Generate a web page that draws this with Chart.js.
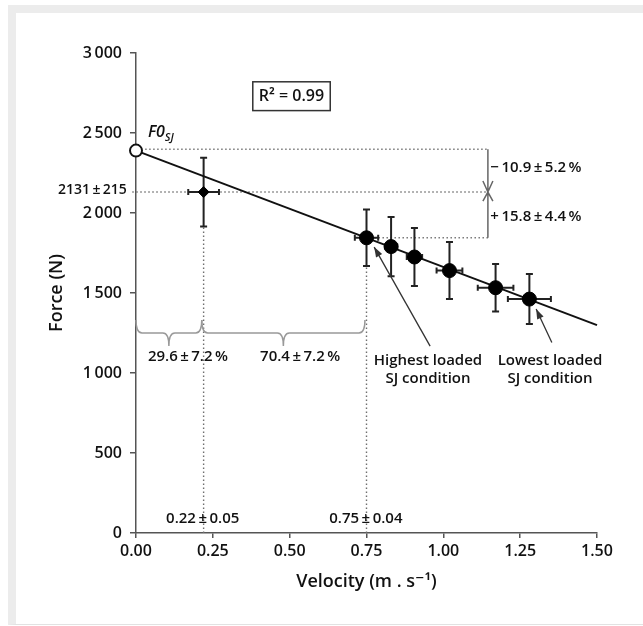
<!DOCTYPE html>
<html lang="en">
<head>
  <meta charset="UTF-8" />
  <title>Force-velocity relationship (SJ)</title>
  <script src="https://cdn.jsdelivr.net/npm/chart.js"></script>
  <style>
    html, body { margin: 0; padding: 0; background: #fff; }
    #wrap { position: relative; width: 643px; height: 626px; }
    #frame { position: absolute; left: 8px; top: 5px; right: 0; bottom: 1px;
             border-top: 8px solid #ececec; border-left: 8px solid #ececec; border-bottom: 1px solid #e2e2e2; }
    canvas { position: absolute; left: 0; top: 0; }
  </style>
</head>
<body>
  <div id="wrap">
    <div id="frame"></div>
    <canvas id="fvChart" width="643" height="626"></canvas>
  </div>

  <script>
    // loaded SJ conditions (mean, SD)
    const loadVelocity   = [0.75, 0.83, 0.906, 1.02, 1.17, 1.28];
    const loadVelocitySd = [0.038, 0.02, 0.025, 0.042, 0.058, 0.07];
    const loadForce      = [1845, 1790, 1725, 1640, 1533, 1462];
    const loadForceSd    = [177, 185, 181, 178, 149, 156];

    // unloaded SJ (diamond)
    const sjVelocity   = [0.22];
    const sjVelocitySd = [0.05];
    const sjForce      = [2131];
    const sjForceSd    = [215];

    // linear fit F = F0 + slope * v
    const fitIntercept = 2390;
    const fitSlope = -727;
    const fitRange = [0, 1.5];

    const xTicks = [0, 0.25, 0.5, 0.75, 1, 1.25, 1.5];
    const yTicks = [0, 500, 1000, 1500, 2000, 2500, 3000];

    const bracketX = 1.145;
    const ink = '#111';
    const fontFam = '"Open Sans", "DejaVu Sans", sans-serif';

    Chart.defaults.font.family = fontFam;

    function thin(n) {
      return String(n).replace(/\B(?=(\d{3})+(?!\d))/g, '\u2009');
    }

    // text labels placed in data space
    const notes = [
      { text: '29.6\u2009±\u20097.2\u2009%', x: 0.169, y: 1102, align: 'center', size: 15 },
      { text: '70.4\u2009±\u20097.2\u2009%', x: 0.534, y: 1102, align: 'center', size: 15 },
      { text: 'Highest loaded', x: 0.950, y: 1078, align: 'center', size: 15 },
      { text: 'SJ condition',   x: 0.950, y: 966,  align: 'center', size: 15 },
      { text: 'Lowest loaded',  x: 1.347, y: 1078, align: 'center', size: 15 },
      { text: 'SJ condition',   x: 1.347, y: 966,  align: 'center', size: 15 },
      { text: '\u2212\u200910.9\u2009±\u20095.2\u2009%', x: 1.153, y: 2281, align: 'left', size: 15 },
      { text: '+\u200915.8\u2009±\u20094.4\u2009%', x: 1.153, y: 1975, align: 'left', size: 15 },
      { text: '0.22\u2009±\u20090.05', x: 0.217, y: 87, align: 'center', size: 15 },
      { text: '0.75\u2009±\u20090.04', x: 0.748, y: 87, align: 'center', size: 15 },
      { text: '2131\u2009±\u2009215', x: -0.03, y: 2142, align: 'right', size: 14 }
    ];

    const arrows = [
      { from: [0.957, 1168], to: [0.775, 1787] },
      { from: [1.353, 1190], to: [1.302, 1400] }
    ];

    const braces = [
      { x1: 0, x2: 0.214, y: 1250 },
      { x1: 0.214, x2: 0.745, y: 1250 }
    ];

    function drawErrorBars(ctx, x, y, vx, vsd, fy, fsd) {
      ctx.save();
      ctx.strokeStyle = '#222';
      ctx.lineWidth = 2;
      for (let i = 0; i < vx.length; i++) {
        const cx = x.getPixelForValue(vx[i]);
        const cy = y.getPixelForValue(fy[i]);
        const top = y.getPixelForValue(fy[i] + fsd[i]);
        const bot = y.getPixelForValue(fy[i] - fsd[i]);
        const lft = x.getPixelForValue(vx[i] - vsd[i]);
        const rgt = x.getPixelForValue(vx[i] + vsd[i]);
        ctx.beginPath();
        ctx.moveTo(cx, top); ctx.lineTo(cx, bot);
        ctx.moveTo(cx - 3.5, top); ctx.lineTo(cx + 3.5, top);
        ctx.moveTo(cx - 3.5, bot); ctx.lineTo(cx + 3.5, bot);
        ctx.moveTo(lft, cy); ctx.lineTo(rgt, cy);
        ctx.moveTo(lft, cy - 3); ctx.lineTo(lft, cy + 3);
        ctx.moveTo(rgt, cy - 3); ctx.lineTo(rgt, cy + 3);
        ctx.stroke();
      }
      ctx.restore();
    }

    const annotations = {
      id: 'annotations',
      beforeDatasetsDraw(chart) {
        const { ctx, scales: { x, y } } = chart;
        const X = v => x.getPixelForValue(v);
        const Y = v => y.getPixelForValue(v);

        // dotted guide lines
        ctx.save();
        ctx.strokeStyle = '#6f6f6f';
        ctx.lineWidth = 1.4;
        ctx.setLineDash([1.4, 2.6]);
        const hLines = [
          [0.03, bracketX, fitIntercept + 8],
          [-0.012, bracketX, sjForce[0]],
          [loadVelocity[0], bracketX, loadForce[0]]
        ];
        hLines.forEach(([a, b, f]) => {
          ctx.beginPath(); ctx.moveTo(X(a), Y(f)); ctx.lineTo(X(b), Y(f)); ctx.stroke();
        });
        const vLines = [
          [sjVelocity[0], sjForce[0] - sjForceSd[0]],
          [loadVelocity[0], loadForce[0] - loadForceSd[0]]
        ];
        vLines.forEach(([v, f]) => {
          ctx.beginPath(); ctx.moveTo(X(v), Y(0)); ctx.lineTo(X(v), Y(f)); ctx.stroke();
        });
        ctx.restore();

        // bracket with two arrowheads meeting at the SJ force
        ctx.save();
        ctx.strokeStyle = '#666';
        ctx.lineWidth = 1.5;
        const bx = X(bracketX), ys = Y(sjForce[0]);
        ctx.beginPath();
        ctx.moveTo(bx, Y(fitIntercept + 8)); ctx.lineTo(bx, Y(loadForce[0]));
        ctx.moveTo(bx - 5, ys - 11); ctx.lineTo(bx, ys); ctx.lineTo(bx + 5, ys - 11);
        ctx.moveTo(bx - 5, ys + 9); ctx.lineTo(bx, ys); ctx.lineTo(bx + 5, ys + 9);
        ctx.stroke();
        ctx.restore();

        drawErrorBars(ctx, x, y, sjVelocity, sjVelocitySd, sjForce, sjForceSd);
        drawErrorBars(ctx, x, y, loadVelocity, loadVelocitySd, loadForce, loadForceSd);
      },
      afterDatasetsDraw(chart) {
        const { ctx, scales: { x, y } } = chart;
        const X = v => x.getPixelForValue(v);
        const Y = v => y.getPixelForValue(v);

        // curly braces
        ctx.save();
        ctx.strokeStyle = '#999';
        ctx.lineWidth = 1.5;
        braces.forEach(b => {
          const x1 = X(b.x1), x2 = X(b.x2), yb = Y(b.y);
          const up = 13, down = 13, r = 6;
          const mid = (x1 + x2) / 2;
          ctx.beginPath();
          ctx.moveTo(x1, yb - up);
          ctx.quadraticCurveTo(x1, yb, x1 + r, yb);
          ctx.lineTo(mid - r, yb);
          ctx.quadraticCurveTo(mid, yb, mid, yb + down);
          ctx.quadraticCurveTo(mid, yb, mid + r, yb);
          ctx.lineTo(x2 - r, yb);
          ctx.quadraticCurveTo(x2, yb, x2, yb - up);
          ctx.stroke();
        });
        ctx.restore();

        // pointer arrows
        ctx.save();
        ctx.strokeStyle = '#333';
        ctx.fillStyle = '#333';
        ctx.lineWidth = 1.3;
        arrows.forEach(a => {
          const x0 = X(a.from[0]), y0 = Y(a.from[1]);
          const x1 = X(a.to[0]), y1 = Y(a.to[1]);
          const ang = Math.atan2(y1 - y0, x1 - x0);
          ctx.beginPath(); ctx.moveTo(x0, y0); ctx.lineTo(x1, y1); ctx.stroke();
          ctx.beginPath();
          ctx.moveTo(x1, y1);
          ctx.lineTo(x1 - 10 * Math.cos(ang) + 3.5 * Math.sin(ang), y1 - 10 * Math.sin(ang) - 3.5 * Math.cos(ang));
          ctx.lineTo(x1 - 10 * Math.cos(ang) - 3.5 * Math.sin(ang), y1 - 10 * Math.sin(ang) + 3.5 * Math.cos(ang));
          ctx.closePath();
          ctx.fill();
        });
        ctx.restore();

        // texts
        ctx.save();
        ctx.fillStyle = ink;
        ctx.textBaseline = 'middle';
        notes.forEach(n => {
          ctx.font = '600 ' + n.size + 'px ' + fontFam;
          ctx.textAlign = n.align;
          ctx.fillText(n.text, X(n.x), Y(n.y));
        });

        // F0 label with subscript
        ctx.textAlign = 'left';
        ctx.textBaseline = 'alphabetic';
        ctx.font = 'italic 600 16px ' + fontFam;
        const fx = X(0.039), fy = Y(2475);
        ctx.fillText('F0', fx, fy);
        const w = ctx.measureText('F0').width;
        ctx.font = 'italic 600 11px ' + fontFam;
        ctx.fillText('SJ', fx + w, fy + 4);

        // R² box
        ctx.strokeStyle = '#333';
        ctx.lineWidth = 1.5;
        const bx1 = X(0.38), bx2 = X(0.632), by1 = Y(2820), by2 = Y(2640);
        ctx.strokeRect(bx1, by1, bx2 - bx1, by2 - by1);
        ctx.font = '600 16px ' + fontFam;
        ctx.textAlign = 'center';
        ctx.textBaseline = 'middle';
        ctx.fillText('R² = 0.99', (bx1 + bx2) / 2, (by1 + by2) / 2);
        ctx.restore();
      }
    };

    new Chart(document.getElementById('fvChart'), {
      type: 'scatter',
      data: {
        datasets: [
          {
            label: 'F0',
            data: [{ x: 0, y: fitIntercept }],
            pointRadius: 6,
            pointBackgroundColor: '#fff',
            pointBorderColor: '#111',
            pointBorderWidth: 2,
            clip: false,
            order: 0
          },
          {
            label: 'Loaded SJ',
            data: loadVelocity.map((v, i) => ({ x: v, y: loadForce[i] })),
            pointRadius: 7,
            pointBackgroundColor: '#000',
            pointBorderColor: '#000',
            clip: false,
            order: 1
          },
          {
            label: 'SJ',
            data: sjVelocity.map((v, i) => ({ x: v, y: sjForce[i] })),
            pointStyle: 'rectRot',
            pointRadius: 5.5,
            pointBackgroundColor: '#000',
            pointBorderColor: '#000',
            clip: false,
            order: 1
          },
          {
            type: 'line',
            label: 'Fit',
            data: fitRange.map(v => ({ x: v, y: fitIntercept + fitSlope * v })),
            borderColor: '#111',
            borderWidth: 2,
            pointRadius: 0,
            fill: false,
            clip: false,
            order: 2
          }
        ]
      },
      options: {
        responsive: false,
        animation: false,
        layout: { padding: { top: 53, right: 46, bottom: 0, left: 0 } },
        plugins: {
          legend: { display: false },
          tooltip: { enabled: false }
        },
        scales: {
          x: {
            type: 'linear',
            min: 0,
            max: 1.5,
            afterBuildTicks: s => { s.ticks = xTicks.map(v => ({ value: v })); },
            afterFit: s => { s.height = 93; },
            ticks: {
              callback: v => Number(v).toFixed(2),
              color: ink,
              font: { size: 16, weight: '600' },
              padding: 4,
              maxRotation: 0
            },
            grid: { drawOnChartArea: false, tickLength: 5, color: '#555', lineWidth: 1.5 },
            border: { color: '#555', width: 1.5 },
            title: {
              display: true,
              text: 'Velocity (m . s\u207B\u00B9)',
              color: ink,
              font: { size: 18, weight: '600' },
              padding: { top: 0, bottom: 33 }
            }
          },
          y: {
            type: 'linear',
            min: 0,
            max: 3000,
            afterBuildTicks: s => { s.ticks = yTicks.map(v => ({ value: v })); },
            afterFit: s => { s.width = 136; },
            ticks: {
              callback: v => thin(v),
              color: ink,
              font: { size: 16, weight: '600' },
              padding: 8
            },
            grid: { drawOnChartArea: false, tickLength: 6, color: '#555', lineWidth: 1.5 },
            border: { color: '#555', width: 1.5 },
            title: {
              display: true,
              text: 'Force (N)',
              color: ink,
              font: { size: 18, weight: '600' },
              padding: { top: 46, bottom: 0 }
            }
          }
        }
      },
      plugins: [annotations]
    });
  </script>
</body>
</html>
